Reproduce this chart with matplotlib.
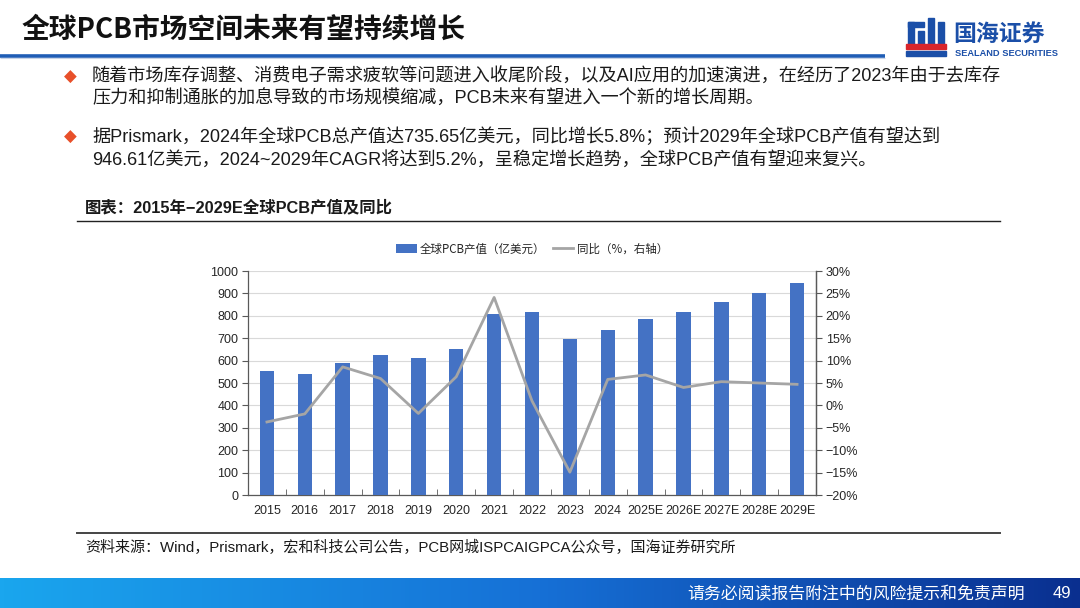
import numpy as np
import matplotlib
matplotlib.use('Agg')
import matplotlib.pyplot as plt
from matplotlib.patches import Rectangle, Patch, Polygon
from matplotlib.lines import Line2D
from matplotlib.colors import LinearSegmentedColormap

# data
years = ['2015', '2016', '2017', '2018', '2019', '2020', '2021', '2022', '2023',
         '2024', '2025E', '2026E', '2027E', '2028E', '2029E']
output_value = [553, 542, 589, 624, 613, 652, 809, 817, 695, 736, 786, 816, 861, 904, 947]
yoy_pct = [-3.7, -1.9, 8.6, 6.0, -1.8, 6.4, 24.1, 1.0, -14.9, 5.8, 6.8, 4.0, 5.3, 5.0, 4.7]

left_ticks = list(range(0, 1001, 100))
right_ticks = list(range(-20, 31, 5))

title = '全球PCB市场空间未来有望持续增长'
bullets = [
    ['随着市场库存调整、消费电子需求疲软等问题进入收尾阶段，以及AI应用的加速演进，在经历了2023年由于去库存',
     '压力和抑制通胀的加息导致的市场规模缩减，PCB未来有望进入一个新的增长周期。'],
    ['据Prismark，2024年全球PCB总产值达735.65亿美元，同比增长5.8%；预计2029年全球PCB产值有望达到',
     '946.61亿美元，2024~2029年CAGR将达到5.2%，呈稳定增长趋势，全球PCB产值有望迎来复兴。'],
]
caption = '图表：2015年−2029E全球PCB产值及同比'
source = '资料来源：Wind，Prismark，宏和科技公司公告，PCB网城ISPCAIGPCA公众号，国海证券研究所'
footer = '请务必阅读报告附注中的风险提示和免责声明'
page_no = '49'

CJK = ['Noto Sans CJK SC', 'DejaVu Sans']
MIXED = ['Liberation Sans', 'Noto Sans CJK SC', 'DejaVu Sans']
ARIAL = ['Liberation Sans', 'DejaVu Sans']
plt.rcParams['font.family'] = CJK
plt.rcParams['axes.unicode_minus'] = True

W, H = 1080, 608
fig = plt.figure(figsize=(W / 100, H / 100), dpi=100, facecolor='white')

# page overlay in pixel coordinates (y down)
page = fig.add_axes([0, 0, 1, 1], zorder=0)
page.set_xlim(0, W)
page.set_ylim(H, 0)
page.axis('off')

page.text(22, 30, title, fontsize=20, fontweight='bold', color='#111111', va='center', ha='left')
page.plot([0, 885], [55.5, 55.5], color='#1F5DB5', lw=2.6, solid_capstyle='butt')
page.plot([0, 885], [57.8, 57.8], color='#C8D3E6', lw=0.8, solid_capstyle='butt')

# logo (simplified)
blue_logo = '#1B4FA8'
page.add_patch(Rectangle((908, 22), 6, 26, color=blue_logo))
page.add_patch(Rectangle((908, 22), 16, 5, color=blue_logo))
page.add_patch(Rectangle((918, 31), 6, 17, color=blue_logo))
page.add_patch(Rectangle((928, 18), 6, 26, color=blue_logo))
page.add_patch(Rectangle((938, 22), 6, 22, color=blue_logo))
page.add_patch(Polygon([[906, 44], [946, 44], [946, 49], [906, 49]], color='#D9252B'))
page.add_patch(Rectangle((906, 51), 40, 5, color=blue_logo))
page.text(953, 34, '国海证券', fontsize=16.5, fontweight='bold', color=blue_logo, va='center', ha='left')
page.text(955, 53, 'SEALAND SECURITIES', fontsize=6.7, fontweight='bold', color=blue_logo,
          va='center', ha='left', family=ARIAL)

# bullets
bullet_y = [(77, 99), (137, 160)]
for lines, (y1, y2) in zip(bullets, bullet_y):
    page.text(70, y1, '◆', fontsize=12, color='#E8502A', va='center', ha='center', family=['DejaVu Sans'])
    page.text(92, y1, lines[0], fontsize=13.1, color='#1A1A1A', va='center', ha='left', family=MIXED)
    page.text(92, y2, lines[1], fontsize=13.1, color='#1A1A1A', va='center', ha='left', family=MIXED)

page.text(85, 207, caption, fontsize=11.8, fontweight='bold', color='#1A1A1A', va='center', ha='left',
          family=MIXED)
page.plot([77, 1000], [221, 221], color='#222222', lw=1.0)
page.plot([77, 1000], [533, 533], color='#444444', lw=1.4)
page.text(85, 547, source, fontsize=10.8, color='#1A1A1A', va='center', ha='left', family=MIXED)

# footer gradient band
grad = LinearSegmentedColormap.from_list('foot', ['#1AA6EE', '#1670D6', '#0A2F8F'])
page.imshow(np.linspace(0, 1, 256).reshape(1, -1), cmap=grad, aspect='auto',
            extent=[0, W, H, 578], zorder=1)
page.text(1025, 593, footer, fontsize=12.2, color='white', va='center', ha='right', zorder=2)
page.text(1062, 593, page_no, fontsize=12, color='white', va='center', ha='center', zorder=2,
          family=ARIAL)
page.set_xlim(0, W)
page.set_ylim(H, 0)

# chart
ax = fig.add_axes([248 / W, 1 - 495 / H, 568 / W, 224 / H], zorder=2)
ax.patch.set_alpha(0)
x = np.arange(len(years))
ax.bar(x, output_value, width=0.38, color='#4472C4', zorder=3)
ax.set_xlim(-0.5, len(years) - 0.5)
ax.set_ylim(0, 1000)
ax.set_yticks(left_ticks)
ax.grid(True, axis='y', color='#D9D9D9', lw=0.8, zorder=0)
ax.set_axisbelow(True)
ax.set_xticks(x)
ax.set_xticklabels(years)
ax.set_xticks(np.arange(0.5, len(years) - 0.5), minor=True)
ax.tick_params(axis='x', which='major', length=0, pad=7)
ax.tick_params(axis='x', which='minor', length=4, direction='in', color='#595959')
ax.tick_params(axis='y', length=4, color='#595959', pad=3)
for lab in ax.get_xticklabels() + ax.get_yticklabels():
    lab.set_family(ARIAL)
    lab.set_fontsize(9)
    lab.set_color('#262626')
ax.spines['top'].set_visible(False)
for s in ['left', 'bottom', 'right']:
    ax.spines[s].set_color('#595959')
    ax.spines[s].set_linewidth(0.9)

ax2 = ax.twinx()
ax2.plot(x, yoy_pct, color='#A5A5A5', lw=2.0, zorder=4)
ax2.set_ylim(-20, 30)
ax2.set_yticks(right_ticks)
ax2.set_yticklabels([f'{t}%'.replace('-', '\u2212') for t in right_ticks])
ax2.tick_params(axis='y', length=4, color='#595959', pad=3)
for lab in ax2.get_yticklabels():
    lab.set_family(ARIAL)
    lab.set_fontsize(9)
    lab.set_color('#262626')
ax2.spines['top'].set_visible(False)
ax2.spines['right'].set_color('#595959')
ax2.spines['right'].set_linewidth(0.9)
ax2.spines['left'].set_visible(False)
ax2.spines['bottom'].set_visible(False)

handles = [Patch(facecolor='#4472C4', edgecolor='none'),
           Line2D([0], [0], color='#A5A5A5', lw=2.0)]
fig.legend(handles, ['全球PCB产值（亿美元）', '同比（%，右轴）'], loc='center',
           bbox_to_anchor=(532 / W, 1 - 249 / H), ncol=2, frameon=False, fontsize=8.3,
           handlelength=1.8, handleheight=0.7, handletextpad=0.3, columnspacing=0.6,
           labelcolor='#262626')

fig.savefig('out.png', dpi=100, facecolor='white')
